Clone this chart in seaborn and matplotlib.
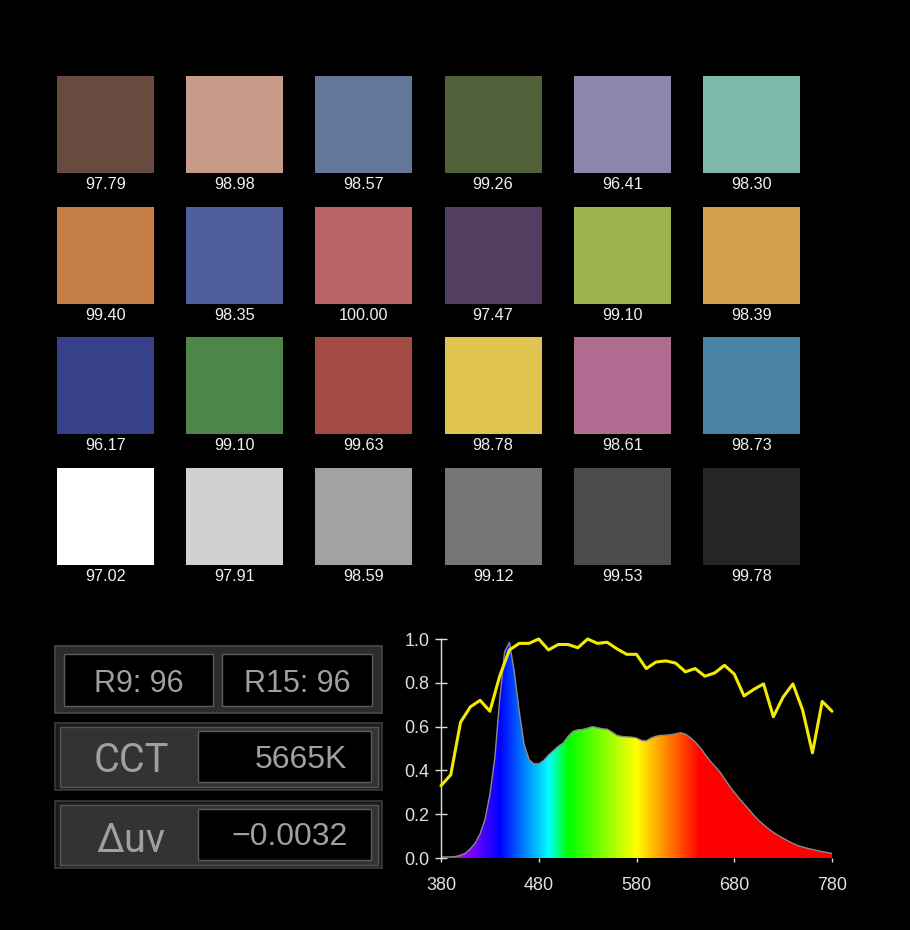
import numpy as np
import matplotlib
matplotlib.use("Agg")
import matplotlib.pyplot as plt
from matplotlib.patches import Rectangle
import seaborn as sns

# colour checker swatches (4 rows x 6 cols) and their scores
swatch_colors = [
    ["#674B3E", "#C69C89", "#637898", "#506038", "#8A86AE", "#7DB8AB"],
    ["#C67E47", "#4F5E9B", "#B76566", "#533D61", "#9EB34E", "#D3A04B"],
    ["#374189", "#4C8748", "#A34A42", "#E0C452", "#B06B91", "#4883A4"],
    ["#FFFFFF", "#D1D1D1", "#A2A2A1", "#777674", "#4B4B4B", "#252525"],
]
swatch_scores = [
    [97.79, 98.98, 98.57, 99.26, 96.41, 98.30],
    [99.40, 98.35, 100.00, 97.47, 99.10, 98.39],
    [96.17, 99.10, 99.63, 98.78, 98.61, 98.73],
    [97.02, 97.91, 98.59, 99.12, 99.53, 99.78],
]

r9 = 96
r15 = 96
cct = 5665
duv = -0.0032

# relative spectral power distribution
spd_nm = list(range(380, 781, 5))
spd = [0.005, 0.005, 0.005, 0.007, 0.012, 0.022, 0.042, 0.068, 0.11, 0.175,
       0.29, 0.455, 0.72, 0.94, 0.985, 0.85, 0.67, 0.52, 0.45, 0.43,
       0.43, 0.445, 0.47, 0.49, 0.51, 0.525, 0.555, 0.578, 0.585, 0.587,
       0.593, 0.600, 0.595, 0.59, 0.588, 0.575, 0.56, 0.555, 0.553, 0.552,
       0.548, 0.537, 0.535, 0.548, 0.556, 0.56, 0.561, 0.563, 0.567, 0.572,
       0.566, 0.55, 0.53, 0.505, 0.474, 0.445, 0.42, 0.395, 0.362, 0.33,
       0.30, 0.273, 0.247, 0.222, 0.195, 0.172, 0.152, 0.133, 0.117, 0.103,
       0.09, 0.078, 0.067, 0.057, 0.05, 0.044, 0.039, 0.034, 0.029, 0.025,
       0.021]

# ratio curve (yellow), every 10 nm
ratio_nm = list(range(380, 781, 10))
ratio = [0.33, 0.38, 0.62, 0.69, 0.72, 0.67, 0.83, 0.95, 0.98, 0.98,
         1.00, 0.95, 0.975, 0.975, 0.96, 1.00, 0.98, 0.985, 0.955, 0.93,
         0.93, 0.865, 0.895, 0.90, 0.89, 0.85, 0.865, 0.83, 0.845, 0.88,
         0.84, 0.74, 0.77, 0.795, 0.645, 0.735, 0.795, 0.675, 0.48, 0.715,
         0.67]

sns.set_theme(style="dark", rc={"axes.facecolor": "black",
                                "figure.facecolor": "black"})
plt.rcParams["font.family"] = ["Liberation Sans", "DejaVu Sans"]

fig = plt.figure(figsize=(9.1, 9.3), dpi=100, facecolor="black")

# --- panel boxes (pixel coordinates) ---
deco = fig.add_axes([0, 0, 1, 1])
deco.set_xlim(0, 910)
deco.set_ylim(930, 0)
deco.axis("off")

txt_col = "#a0a0a0"
deco.add_patch(Rectangle((55, 646), 327, 67, fc="#2c2c2c", ec="#4a4a4a", lw=1.2))
deco.add_patch(Rectangle((64, 654), 149, 52, fc="black", ec="#5c5c5c", lw=1.0))
deco.add_patch(Rectangle((222, 654), 150, 52, fc="black", ec="#5c5c5c", lw=1.0))
deco.text(138.5, 692, f"R9: {r9}", color=txt_col, fontsize=22, ha="center", va="baseline")
deco.text(297, 692, f"R15: {r15}", color=txt_col, fontsize=22, ha="center", va="baseline")

for y0 in (723, 801):
    deco.add_patch(Rectangle((55, y0), 327, 67, fc="#1c1c1c", ec="#3c3c3c", lw=1.2))
    deco.add_patch(Rectangle((60, y0 + 4), 318, 60, fc="#333333", ec="#555555", lw=1.0))
    deco.add_patch(Rectangle((198, y0 + 8), 173, 51, fc="black", ec="#5c5c5c", lw=1.0))

deco.text(131, 771.5, "CCT", color=txt_col, fontsize=28.5, ha="center", va="baseline",
          family=["Roboto", "DejaVu Sans"])
deco.text(347, 768, f"{cct}K", color=txt_col, fontsize=23, ha="right", va="baseline")
deco.text(131, 851.5, "\u2206uv", color=txt_col, fontsize=28.5, ha="center", va="baseline",
          family=["Roboto", "DejaVu Sans"])
deco.text(348, 845, f"{duv:.4f}".replace("-", "\u2212"), color=txt_col, fontsize=23,
          ha="right", va="baseline")

# --- swatches ---
sw = fig.add_axes([40.9 / 910, 1 - 581.9 / 930, 775.2 / 910, 522.7 / 930])
sw.set_xlim(-0.5, 5.5)
sw.set_ylim(3.5, -0.5)
sw.axis("off")
for r, (cols, scores) in enumerate(zip(swatch_colors, swatch_scores)):
    xs = np.arange(len(cols))
    sw.bar(xs, 0.742, bottom=r - 0.371, width=0.75, color=cols, linewidth=0)
    for c, s in enumerate(scores):
        sw.text(c, r + 0.494, f"{s:.2f}", color="#f0f0f0", fontsize=11.7,
                ha="center", va="baseline")

# --- spectrum ---
ax = fig.add_axes([441 / 910, 1 - 858 / 930, 391 / 910, 219 / 930])
ax.set_facecolor("black")

wl = np.arange(380, 781)
anchor = [380, 440, 490, 510, 580, 645, 780]
rgb = np.stack([np.interp(wl, anchor, [1, 0, 0, 0, 1, 1, 1]),
                np.interp(wl, anchor, [0, 0, 1, 1, 1, 0, 0]),
                np.interp(wl, anchor, [1, 1, 1, 0, 0, 0, 0])], axis=-1)
im = ax.imshow(rgb[None, :, :], extent=[380, 780, 0, 1], aspect="auto",
               origin="lower", interpolation="bilinear", zorder=1)
poly = ax.fill_between(spd_nm, spd, 0, color="none")
im.set_clip_path(poly.get_paths()[0], ax.transData)

sns.lineplot(x=spd_nm, y=spd, ax=ax, color="#8a8a8a", linewidth=1.0, zorder=2)
sns.lineplot(x=ratio_nm, y=ratio, ax=ax, color="#f2ea00", linewidth=2.2,
             zorder=3, clip_on=False)

ax.set_xlim(380, 780)
ax.set_ylim(0, 1.0)
ax.set_xticks([380, 480, 580, 680, 780])
ax.set_yticks([0, 0.2, 0.4, 0.6, 0.8, 1.0])
ax.set_yticklabels([f"{v:.1f}" for v in [0, 0.2, 0.4, 0.6, 0.8, 1.0]])
ax.grid(False)
for s in ("top", "right", "bottom"):
    ax.spines[s].set_visible(False)
ax.spines["left"].set_visible(True)
ax.spines["left"].set_color("#e0e0e0")
ax.spines["left"].set_linewidth(1.0)
ax.tick_params(axis="y", direction="inout", length=9, width=1, color="#e0e0e0",
               labelcolor="#e0e0e0", labelsize=13, pad=4, left=True)
ax.tick_params(axis="x", direction="out", length=3, width=1, color="#e0e0e0",
               labelcolor="#e0e0e0", labelsize=13, pad=10.5, bottom=True)

fig.savefig("out.png", dpi=100, facecolor="black")
